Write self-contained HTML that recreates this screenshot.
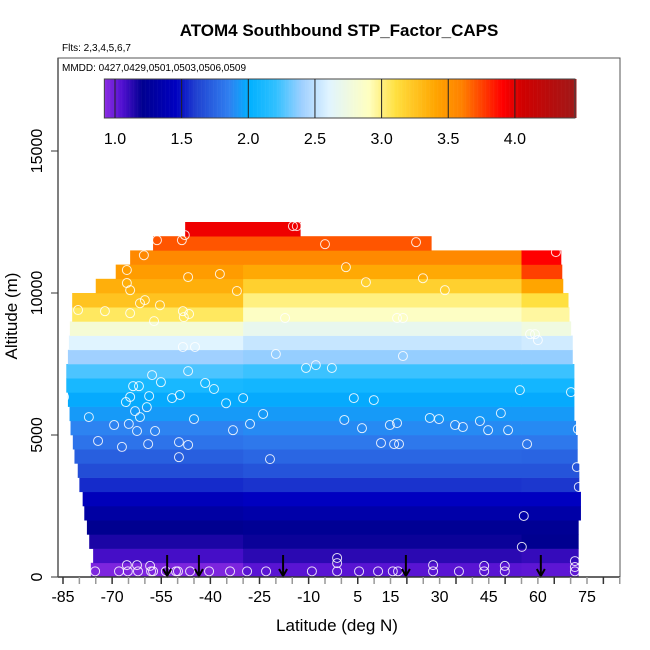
<!DOCTYPE html>
<html><head><meta charset="utf-8"><style>
body{margin:0;background:#fff}
svg{display:block;font-family:"Liberation Sans",sans-serif}
</style></head><body>
<svg id="chart" width="650" height="650" viewBox="0 0 650 650">
<text x="339" y="36" text-anchor="middle" font-size="17" font-weight="bold">ATOM4 Southbound STP_Factor_CAPS</text>
<text x="62" y="51" font-size="10">Flts: 2,3,4,5,6,7</text>
<rect x="58" y="58" width="562" height="519" fill="none" stroke="#555" stroke-width="1"/>
<text x="62" y="71" font-size="10">MMDD: 0427,0429,0501,0503,0506,0509</text>
<g id="heat"></g>
<g id="pts"></g>
<g id="arrows"></g>
<g id="cbar"></g>
<g id="axes"></g>
<text x="337" y="631" text-anchor="middle" font-size="17">Latitude (deg N)</text>
<text transform="translate(17,316) rotate(-90)" text-anchor="middle" font-size="17">Altitude (m)</text>
</svg>
<script>
const rowAltBottom=[0,500,1000,1500,2000,2500,3000,3500,4000,4500,5000,5500,6000,6500,7000,7500,8000,8500,9000,9500,10000,10500,11000,11500,12000];
const rowLatLeft=[-76.5,-75.8,-77,-77.7,-78.5,-79,-80,-80.5,-81.5,-82,-82.7,-83,-83.5,-84,-84,-83.5,-83.2,-82.9,-82.2,-82.2,-75,-68.9,-64.5,-57.5,-47.7];
const rowLatRight=[72.3,72.3,72.3,72.3,73,73,72.5,72.5,72,72,71.5,71,71,71,71,70.5,70.5,70,69.5,69.2,67.6,67.3,67,27.4,-12.6];
const rowValSouth=[0.95,1.07,1.15,1.2,1.3,1.42,1.55,1.65,1.72,1.8,1.86,1.93,1.98,2.1,2.25,2.4,2.6,2.8,3.05,3.25,3.35,3.45,3.55,3.7,3.95];
const rowValMid=[1.03,1.12,1.18,1.22,1.33,1.45,1.57,1.68,1.75,1.82,1.88,1.93,1.98,2.08,2.22,2.38,2.52,2.68,2.88,3.0,3.18,3.38,3.55,3.7,3.95];
const rowValNorth=[1.02,1.1,1.2,1.22,1.32,1.45,1.58,1.68,1.74,1.82,1.88,1.93,1.98,2.08,2.22,2.38,2.55,2.75,2.95,3.1,3.4,3.75,3.9,3.7,3.95];
const segSplits=[-30,55];
const ptLat=[-14.8,-13.6,-47.8,-56.3,-48.7,-5,22.8,-60.3,65.5,-65.5,1.4,-46.8,-37.1,-65.5,-64.5,7.5,31.6,24.9,-31.9,-80.4,-61.5,-60,-55.4,-72.2,-48.4,-17.2,17,18.8,57.6,59.1,60,-64.5,-57.2,-48.1,-46.5,-48.4,-44.7,-20,18.8,-10.8,-7.8,-2.9,-57.8,-55.1,-46.8,-63.6,-61.8,-41.6,-38.9,54.5,70.1,
-84.7,-64.5,-58.7,-49.3,-51.7,-65.8,-35.2,-30,3.8,9.9,-77.1,-63,-59.4,-61.5,-45,-23.9,-27.9,-69.4,-64.9,-62.4,-56.9,-33.1,0.9,6.3,14.8,17,27,29.8,34.7,37.1,42.3,44.8,48.7,50.9,72.2,-74.3,-67,-59,-49.6,-46.8,12.1,16.1,17.6,56.7,-49.6,-21.8,71.9,72.5,55.7,55.1,
-75.2,-67.9,-65.2,-62.1,-58.1,-57.5,-53.6,-50.5,-49.9,-46.2,-40.4,-34,-28.8,-23,-9,-1.3,5.4,11.2,15.7,17.3,28,35.9,43.6,49.9,71.3,-65.5,-62.4,-58.4,-1.3,-1.3,28,43.6,49.9,71.3,71.3];
const ptAlt=[12355,12355,12040,11860,11860,11720,11790,11330,11440,10810,10910,10560,10670,10350,10100,10380,10100,10520,10070,9400,9640,9750,9570,9360,9360,9120,9120,9120,8550,8550,8340,9290,9010,9150,9260,8100,8100,7850,7780,7360,7460,7360,7110,6860,7250,6720,6720,6830,6620,6580,6510,
6340,6340,6370,6410,6300,6160,6120,6300,6300,6230,5630,5840,5980,5630,5560,5740,5390,5350,5390,5140,5140,5170,5530,5240,5350,5420,5600,5560,5350,5280,5490,5170,5770,5170,5210,4790,4580,4680,4750,4650,4720,4680,4680,4680,4220,4150,3870,3170,2150,1060,
200,200,200,200,200,200,200,200,200,200,200,200,200,200,200,200,200,200,200,200,200,200,200,200,200,420,420,390,490,670,420,390,390,560,350];
const arrowLat=[-53.2,-43.5,-17.8,19.7,60.9];
const xTickLabels=[-85,-70,-55,-40,-25,-10,5,15,30,45,60,75];
const yTickLabels=[0,5000,10000,15000];
const cbarTicks=[1.0,1.5,2.0,2.5,3.0,3.5,4.0];
const cStops=[[0.92,[138,43,226]],[1.05,[80,16,208]],[1.2,[0,0,144]],[1.45,[0,0,192]],[1.6,[32,64,208]],[1.85,[48,128,240]],[2.0,[0,176,255]],[2.2,[48,192,255]],[2.4,[160,208,255]],[2.6,[224,244,255]],[2.9,[255,255,192]],[3.1,[255,224,64]],[3.4,[255,165,0]],[3.6,[255,128,0]],[3.9,[255,0,0]],[4.05,[208,0,0]],[4.45,[160,24,24]]];
const NS="http://www.w3.org/2000/svg";
const xS=l=>63+(l+85)*3.275, yS=a=>577-a*0.0284, cX=v=>115+(v-1)*133.3;
function col(v){if(v<=cStops[0][0])return `rgb(${cStops[0][1]})`;for(let i=1;i<cStops.length;i++){if(v<=cStops[i][0]){const a=cStops[i-1],b=cStops[i],t=(v-a[0])/(b[0]-a[0]);return `rgb(${a[1].map((c,k)=>Math.round(c+(b[1][k]-c)*t)).join(',')})`;}}return `rgb(${cStops[cStops.length-1][1]})`;}
function mk(tag,at,par){const e=document.createElementNS(NS,tag);for(const k in at)e.setAttribute(k,at[k]);par.appendChild(e);return e;}
const heat=document.getElementById('heat');
rowAltBottom.forEach((a,i)=>{
 const vals=[rowValSouth[i],rowValMid[i],rowValNorth[i]];
 const edges=[rowLatLeft[i],Math.max(rowLatLeft[i],Math.min(segSplits[0],rowLatRight[i])),Math.max(rowLatLeft[i],Math.min(segSplits[1],rowLatRight[i])),rowLatRight[i]];
 for(let s=0;s<3;s++){const w=xS(edges[s+1])-xS(edges[s]);if(w<=0)continue;
  const r=mk('rect',{x:xS(edges[s]),y:yS(a+500),width:w+0.5,height:yS(a)-yS(a+500)+0.3,fill:col(vals[s])},heat);
  
  }
});
const pts=document.getElementById('pts');
ptLat.forEach((l,i)=>{const c=mk('circle',{cx:xS(l),cy:yS(ptAlt[i]),r:4.5,fill:'none',stroke:'#fff','stroke-width':1,opacity:0.85},pts);
 
 });
const ar=document.getElementById('arrows');
arrowLat.forEach(l=>{const x=xS(l);const g=mk('g',{},ar);
 
 
 mk('line',{x1:x,y1:555,x2:x,y2:576,stroke:'#000','stroke-width':2},g);
 mk('polyline',{points:`${x-4},${569} ${x},${576} ${x+4},${569}`,fill:'none',stroke:'#000','stroke-width':2},g);});
const cb=document.getElementById('cbar');
for(let v=0.92;v<4.45;v+=0.01){mk('rect',{x:cX(v),y:79,width:1.6,height:39,fill:col(v)},cb);}
mk('rect',{x:cX(0.92),y:79,width:cX(4.45)-cX(0.92),height:39,fill:'none',stroke:'#444','stroke-width':1},cb);
cbarTicks.forEach(v=>{mk('line',{x1:cX(v),y1:79,x2:cX(v),y2:118,stroke:'#222','stroke-width':1},cb);
 const t=mk('text',{x:cX(v),y:144,'text-anchor':'middle','font-size':16},cb);t.textContent=v.toFixed(1);
 
 });
const ax=document.getElementById('axes');
mk('line',{x1:58,y1:577,x2:620,y2:577,stroke:'#333','stroke-width':1.5},ax);
mk('line',{x1:58,y1:58,x2:58,y2:577,stroke:'#555','stroke-width':1.5},ax);
for(let l=-85;l<=85;l+=5){const x=xS(l);mk('line',{x1:x,y1:577,x2:x,y2:584,stroke:(l%15===5||l%15===-10)?'#333':'#999','stroke-width':1.5},ax);}
xTickLabels.forEach(l=>{const t=mk('text',{x:xS(l),y:602,'text-anchor':'middle','font-size':16},ax);t.textContent=l;
 
 });
yTickLabels.forEach(a=>{const y=yS(a);mk('line',{x1:51,y1:y,x2:58,y2:y,stroke:'#333','stroke-width':1},ax);
 const t=mk('text',{transform:`translate(42,${y}) rotate(-90)`,'text-anchor':'middle','font-size':16},ax);t.textContent=a;
 
 });
</script>
</body></html>
